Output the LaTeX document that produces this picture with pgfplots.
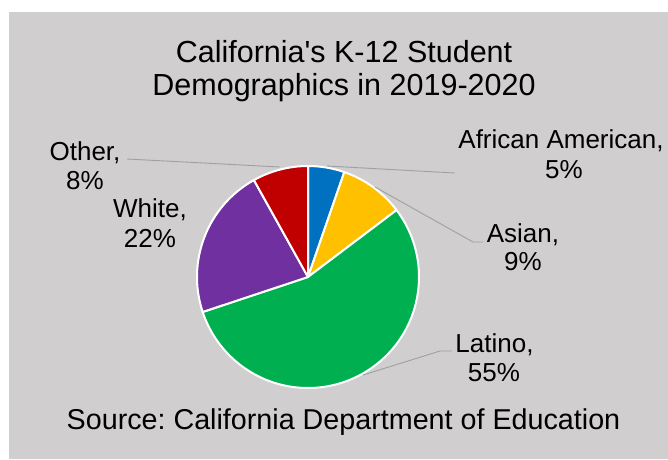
\documentclass[border=0pt]{standalone}
\usepackage{pgfplots}
\usepackage{pgfplotstable}
\pgfplotsset{compat=1.18}
\usepackage{fontspec}
\setmainfont{Liberation Sans}
\frenchspacing
\definecolor{bg}{RGB}{208,206,206}
\definecolor{cAA}{RGB}{0,112,192}
\definecolor{cAs}{RGB}{255,192,0}
\definecolor{cLa}{RGB}{0,176,80}
\definecolor{cWh}{RGB}{112,48,160}
\definecolor{cOt}{RGB}{192,0,0}
\definecolor{leader}{RGB}{160,160,160}
\pgfplotstableread[col sep=comma]{
name,value,color
African American,5.3,cAA
Asian,9.4,cAs
Latino,55.2,cLa
White,22.0,cWh
Other,8.1,cOt
}\piedata
\begin{document}
\begin{tikzpicture}
\begin{axis}[
  scale only axis, width=668pt, height=459pt,
  xmin=0, xmax=668, ymin=0, ymax=459, y dir=reverse,
  hide axis, clip=false]
% background
\fill[white] (axis cs:0,0) rectangle (axis cs:668,459);
\fill[bg] (axis cs:9,12) rectangle (axis cs:668,459);
% pie slices from the table
\def\cum{0}
\pgfplotsforeachungrouped \i in {0,...,4}{%
  \pgfplotstablegetelem{\i}{value}\of\piedata \let\val\pgfplotsretval
  \pgfplotstablegetelem{\i}{color}\of\piedata \let\slicecol\pgfplotsretval
  \pgfmathsetmacro\angA{90-3.6*\cum}%
  \pgfmathsetmacro\angB{90-3.6*(\cum+\val)}%
  \edef\cmd{\noexpand\filldraw[fill=\slicecol, draw=white, line width=2pt, line join=round]
    (axis cs:308,277) -- ++(\angA:111pt) arc[start angle=\angA, end angle=\angB, radius=111pt] -- cycle;}%
  \cmd
  \pgfmathsetmacro\cum{\cum+\val}%
}
% leader lines
\draw[leader, line width=0.9pt] (axis cs:127,159) -- (axis cs:280,167);
\draw[leader, line width=0.9pt] (axis cs:327,166) -- (axis cs:455,173);
\draw[leader, line width=0.9pt] (axis cs:375,187) -- (axis cs:473,242) -- (axis cs:483,242);
\draw[leader, line width=0.9pt] (axis cs:363,375) -- (axis cs:440,351) -- (axis cs:452,351);
% title
\node[anchor=base, font=\fontsize{30.5}{34}\selectfont] at (axis cs:344,62) {California\textquotesingle s K-12 Student};
\node[anchor=base, font=\fontsize{30.5}{34}\selectfont] at (axis cs:344,95) {Demographics in 2019-2020};
% source
\node[anchor=base, font=\fontsize{28.7}{32}\selectfont] at (axis cs:343.5,429) {Source: California Department of Education};
% data labels
\tikzset{lab/.style={anchor=base, font=\fontsize{26}{30}\selectfont, inner sep=0pt}}
\node[lab] at (axis cs:561,148) {African American,};
\node[lab] at (axis cs:564,178) {5\%};
\node[lab] at (axis cs:523,242) {Asian,};
\node[lab] at (axis cs:523,270) {9\%};
\node[lab] at (axis cs:494.5,352) {Latino,};
\node[lab] at (axis cs:494,381) {55\%};
\node[lab] at (axis cs:150,217) {White,};
\node[lab] at (axis cs:150,247) {22\%};
\node[lab] at (axis cs:85,160) {Other,};
\node[lab] at (axis cs:85,189) {8\%};
\end{axis}
\end{tikzpicture}
\end{document}
